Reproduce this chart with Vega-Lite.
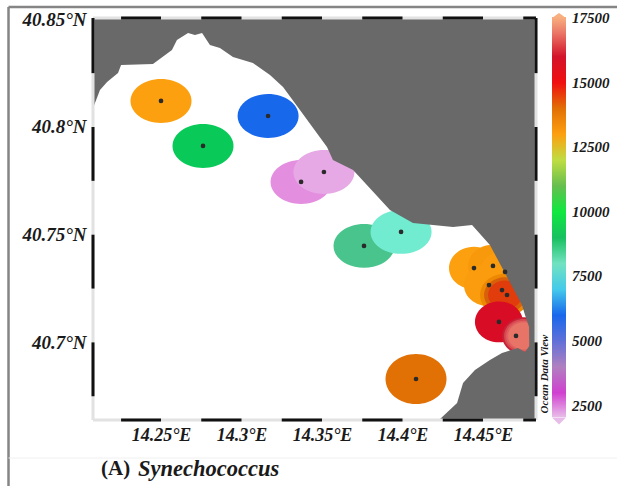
{
"$schema":"https://vega.github.io/schema/vega-lite/v6.json",
"width":443,"height":403,
"autosize":"none",
"padding":{"left":93,"top":18,"right":81,"bottom":65},
"background":"white",
"config":{"view":{"stroke":null}},
"data":{"values":[{}]},
"datasets":{
"coast":[{"lon":14.20776,"lat":40.8088},{"lon":14.209,"lat":40.8111},{"lon":14.2121,"lat":40.8172},{"lon":14.2165,"lat":40.8209},{"lon":14.2233,"lat":40.8251},{"lon":14.2252,"lat":40.8288},{"lon":14.245,"lat":40.8292},{"lon":14.2568,"lat":40.8357},{"lon":14.2599,"lat":40.8404},{"lon":14.2668,"lat":40.8436},{"lon":14.2711,"lat":40.8427},{"lon":14.2755,"lat":40.8436},{"lon":14.2804,"lat":40.8381},{"lon":14.2866,"lat":40.8367},{"lon":14.2947,"lat":40.8325},{"lon":14.3071,"lat":40.8297},{"lon":14.3177,"lat":40.8241},{"lon":14.3258,"lat":40.8186},{"lon":14.3363,"lat":40.8079},{"lon":14.3531,"lat":40.7907},{"lon":14.3568,"lat":40.7847},{"lon":14.3693,"lat":40.78},{"lon":14.3922,"lat":40.7615},{"lon":14.4065,"lat":40.7554},{"lon":14.4314,"lat":40.7536},{"lon":14.4432,"lat":40.7545},{"lon":14.4543,"lat":40.7452},{"lon":14.4742,"lat":40.7174},{"lon":14.4761,"lat":40.7127},{"lon":14.4786,"lat":40.7072},{"lon":14.4792,"lat":40.66351},{"lon":14.48292,"lat":40.66351}],
"south":[{"lon":14.422,"lat":40.66351},{"lon":14.4339,"lat":40.6719},{"lon":14.4376,"lat":40.6812},{"lon":14.445,"lat":40.6872},{"lon":14.4543,"lat":40.6918},{"lon":14.4618,"lat":40.6951},{"lon":14.4717,"lat":40.6974},{"lon":14.4761,"lat":40.6955},{"lon":14.4792,"lat":40.6988}],
"open":[{"lon":14.25,"lat":40.8121,"v":13000},{"lon":14.2761,"lat":40.7912,"v":9200},{"lon":14.3165,"lat":40.8051,"v":6000},{"lon":14.337,"lat":40.7745,"v":2500},{"lon":14.3512,"lat":40.7791,"v":2250},{"lon":14.3761,"lat":40.7448,"v":8500},{"lon":14.3991,"lat":40.7513,"v":7800}],
"south_station":[{"lon":14.4084,"lat":40.683,"v":14000}],
"cluster":[{"lon":14.4444,"lat":40.7345,"v":13000},{"lon":14.4562,"lat":40.7355,"v":13200},{"lon":14.4637,"lat":40.7327,"v":13100},{"lon":14.4537,"lat":40.7266,"v":13100}],
"blend":[{"lon":14.4637,"lat":40.722,"v":13600},{"lon":14.4637,"lat":40.722,"v":14200},{"lon":14.4637,"lat":40.722,"v":14700},{"lon":14.4599,"lat":40.7095,"v":15900},{"lon":14.4755,"lat":40.703,"v":16200},{"lon":14.4755,"lat":40.703,"v":16500},{"lon":14.4755,"lat":40.703,"v":16700},{"lon":14.4755,"lat":40.703,"v":16900}],
"dots":[{"lon":14.25,"lat":40.8121},{"lon":14.2761,"lat":40.7912},{"lon":14.3165,"lat":40.8051},{"lon":14.337,"lat":40.7745},{"lon":14.3512,"lat":40.7791},{"lon":14.3991,"lat":40.7513},{"lon":14.3761,"lat":40.7448},{"lon":14.4084,"lat":40.683},{"lon":14.4444,"lat":40.7345},{"lon":14.4562,"lat":40.7355},{"lon":14.4637,"lat":40.7327},{"lon":14.4537,"lat":40.7266},{"lon":14.4618,"lat":40.7243},{"lon":14.4649,"lat":40.722},{"lon":14.4599,"lat":40.7095},{"lon":14.4705,"lat":40.703}],
"hbars":[{"a":14.2252,"b":14.25,"lat":40.8506},{"a":14.275,"b":14.3,"lat":40.8506},{"a":14.325,"b":14.35,"lat":40.8506},{"a":14.375,"b":14.4,"lat":40.8506},{"a":14.425,"b":14.45,"lat":40.8506},{"a":14.475,"b":14.4829,"lat":40.8506},{"a":14.2252,"b":14.25,"lat":40.664},{"a":14.275,"b":14.3,"lat":40.664},{"a":14.325,"b":14.35,"lat":40.664},{"a":14.375,"b":14.4,"lat":40.664},{"a":14.425,"b":14.45,"lat":40.664},{"a":14.475,"b":14.4829,"lat":40.664}],
"vbars":[{"a":40.8506,"b":40.825,"lon":14.20776},{"a":40.8,"b":40.775,"lon":14.20776},{"a":40.75,"b":40.725,"lon":14.20776},{"a":40.7,"b":40.675,"lon":14.20776},{"a":40.8506,"b":40.825,"lon":14.48292},{"a":40.8,"b":40.775,"lon":14.48292},{"a":40.75,"b":40.725,"lon":14.48292},{"a":40.7,"b":40.675,"lon":14.48292}]
},
"layer":[
{"data":{"name":"open"},"mark":{"type":"point","filled":true,"opacity":1,"shape":"M-1,0A1,0.72 0 1,0 1,0A1,0.72 0 1,0 -1,0Z","size":3721},
 "encoding":{
 "x":{"field":"lon","type":"quantitative","scale":{"domain":[14.20776,14.48292],"nice":false,"zero":false},"axis":{"title":null,"values":[14.25,14.3,14.35,14.4,14.45],"labelExpr":"datum.value+'°E'","domain":false,"ticks":false,"grid":false,"labelFont":"Liberation Serif","labelFontWeight":"bold","labelFontStyle":"italic","labelFontSize":18,"labelColor":"#1a1a1a","labelPadding":5,"labelOverlap":false,"labelFlush":false}},
 "y":{"field":"lat","type":"quantitative","scale":{"domain":[40.66351,40.8506],"nice":false,"zero":false},"axis":{"title":null,"values":[40.7,40.75,40.8,40.85],"labelExpr":"datum.value+'°N'","domain":false,"ticks":false,"grid":false,"labelFont":"Liberation Serif","labelFontWeight":"bold","labelFontStyle":"italic","labelFontSize":19,"labelColor":"#1a1a1a","labelPadding":7,"labelOverlap":false,"labelFlush":false}},
 "color":{"field":"v","type":"quantitative","scale":{"domain":[2060,2500,3000,3500,4000,4500,5000,5800,6000,6800,7500,7800,8200,8500,9000,9700,10000,10800,11600,12100,12500,13000,13800,14400,15000,15700,16200,16700,17100,17540],"range":["#e8bce8","#e48ee0","#d040d0","#c070c8","#b080c0","#9090d0","#6070d8","#1040ff","#1868ec","#50c0f0","#60e0d0","#72ecd0","#70d8b0","#48c48c","#18c060","#00e040","#10e840","#50b850","#a0d050","#c8e040","#f0c020","#fda010","#e88000","#d05010","#f01010","#e00010","#c82038","#e06060","#f08870","#f8b080"]},
  "legend":{"title":null,"orient":"none","legendX":459,"legendY":-1,"padding":0,"gradientLength":400,"gradientThickness":14,"gradientStrokeWidth":0,"values":[2500,5000,7500,10000,12500,15000,17500],"format":"d","labelFont":"Liberation Serif","labelFontWeight":"bold","labelFontStyle":"italic","labelFontSize":15,"labelColor":"#1a1a1a","labelOffset":6,"labelOverlap":false}}
 }},
{"data":{"name":"south_station"},"mark":{"type":"point","filled":true,"opacity":1,"shape":"M-1,0A1,0.82 0 1,0 1,0A1,0.82 0 1,0 -1,0Z","size":3721},
 "encoding":{"x":{"field":"lon","type":"quantitative"},"y":{"field":"lat","type":"quantitative"},"color":{"field":"v","type":"quantitative"}}},
{"data":{"name":"cluster"},"mark":{"type":"point","filled":true,"opacity":1,"clip":true,"shape":"M-1,0A1,0.85 0 1,0 1,0A1,0.85 0 1,0 -1,0Z","size":2500},
 "encoding":{"x":{"field":"lon","type":"quantitative"},"y":{"field":"lat","type":"quantitative"},"color":{"field":"v","type":"quantitative"}}},
{"data":{"name":"blend"},"mark":{"type":"point","filled":true,"opacity":1,"clip":true,"shape":"M-1,0A1,0.85 0 1,0 1,0A1,0.85 0 1,0 -1,0Z"},
 "encoding":{"x":{"field":"lon","type":"quantitative"},"y":{"field":"lat","type":"quantitative"},"color":{"field":"v","type":"quantitative"},
 "size":{"field":"v","type":"quantitative","legend":null,"scale":{"domain":[13600,14200,14700,15900,16200,16500,16700,16900],"range":[2500,1764,1156,2300,1936,1600,1296,1024]}}}},
{"data":{"name":"coast"},"mark":{"type":"area","orient":"vertical","color":"#696969"},
 "encoding":{"x":{"field":"lon","type":"quantitative"},"y":{"field":"lat","type":"quantitative"},"y2":{"datum":40.8506}}},
{"data":{"name":"south"},"mark":{"type":"area","orient":"vertical","color":"#696969"},
 "encoding":{"x":{"field":"lon","type":"quantitative"},"y":{"field":"lat","type":"quantitative"},"y2":{"datum":40.66351}}},
{"data":{"name":"dots"},"mark":{"type":"point","filled":true,"opacity":1,"color":"#2a2a2a","size":22},
 "encoding":{"x":{"field":"lon","type":"quantitative"},"y":{"field":"lat","type":"quantitative"}}},
{"mark":{"type":"rule","color":"#e2e2e2","strokeWidth":3},"encoding":{"x":{"datum":14.20776,"type":"quantitative"},"x2":{"datum":14.48292},"y":{"datum":40.664,"type":"quantitative"}}},
{"mark":{"type":"rule","color":"#e2e2e2","strokeWidth":3},"encoding":{"x":{"datum":14.20776,"type":"quantitative"},"y":{"datum":40.664,"type":"quantitative"},"y2":{"datum":40.8506}}},
{"mark":{"type":"rule","color":"#e2e2e2","strokeWidth":3},"encoding":{"x":{"datum":14.48292,"type":"quantitative"},"y":{"datum":40.664,"type":"quantitative"},"y2":{"datum":40.8506}}},
{"mark":{"type":"rule","color":"#e2e2e2","strokeWidth":3},"encoding":{"x":{"datum":14.20776,"type":"quantitative"},"x2":{"datum":14.48292},"y":{"datum":40.8506,"type":"quantitative"}}},
{"data":{"name":"hbars"},"mark":{"type":"rule","color":"#111111","strokeWidth":3},"encoding":{"x":{"field":"a","type":"quantitative"},"x2":{"field":"b"},"y":{"field":"lat","type":"quantitative"}}},
{"data":{"name":"vbars"},"mark":{"type":"rule","color":"#111111","strokeWidth":3},"encoding":{"x":{"field":"lon","type":"quantitative"},"y":{"field":"a","type":"quantitative"},"y2":{"field":"b"}}},
{"mark":{"type":"rule","color":"#858585","strokeWidth":2.5},"encoding":{"x":{"datum":14.15528,"type":"quantitative"},"x2":{"datum":14.53323},"y":{"datum":40.8557,"type":"quantitative"}}},
{"mark":{"type":"rule","color":"#858585","strokeWidth":2.5},"encoding":{"x":{"datum":14.15528,"type":"quantitative"},"y":{"datum":40.63333,"type":"quantitative"},"y2":{"datum":40.8557}}},
{"mark":{"type":"rule","color":"#f0f0f0","strokeWidth":1},"encoding":{"x":{"datum":14.15528,"type":"quantitative"},"x2":{"datum":14.53323},"y":{"datum":40.64633,"type":"quantitative"}}},
{"mark":{"type":"point","filled":true,"opacity":1,"color":"#f8b080","size":196,"shape":"M-1,0.36L0,-0.36L1,0.36Z"},"encoding":{"x":{"datum":14.4972,"type":"quantitative"},"y":{"datum":40.85176,"type":"quantitative"}}},
{"mark":{"type":"point","filled":true,"opacity":1,"color":"#e8bce8","size":196,"shape":"M-1,-0.5L0,0.5L1,-0.5Z"},"encoding":{"x":{"datum":14.4972,"type":"quantitative"},"y":{"datum":40.66351,"type":"quantitative"}}},
{"data":{"values":[{"t":"Ocean Data View"}]},"mark":{"type":"text","angle":270,"font":"Liberation Serif","fontWeight":"bold","fontStyle":"italic","fontSize":11,"color":"#1a1a1a","align":"center","baseline":"middle"},"encoding":{"text":{"field":"t"},"x":{"datum":14.48851,"type":"quantitative"},"y":{"datum":40.68533,"type":"quantitative"}}},
{"data":{"values":[{"t":"(A)"}]},"mark":{"type":"text","font":"Liberation Serif","fontWeight":"bold","fontSize":21,"color":"#1a1a1a","align":"left","baseline":"middle"},"encoding":{"text":{"field":"t"},"x":{"datum":14.21273,"type":"quantitative"},"y":{"datum":40.6413,"type":"quantitative"}}},
{"data":{"values":[{"t":"Synechococcus"}]},"mark":{"type":"text","font":"Liberation Serif","fontWeight":"bold","fontStyle":"italic","fontSize":22.5,"color":"#1a1a1a","align":"left","baseline":"middle"},"encoding":{"text":{"field":"t"},"x":{"datum":14.23571,"type":"quantitative"},"y":{"datum":40.6413,"type":"quantitative"}}}
]
}
